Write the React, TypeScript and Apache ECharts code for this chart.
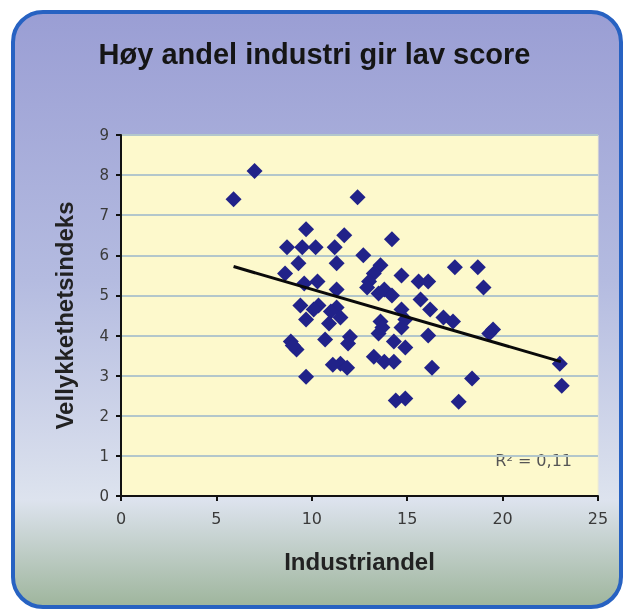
import React, { useEffect, useRef } from "react";
import * as echarts from "echarts";

const titleText = "Høy andel industri gir lav score";
const xName = "Industriandel";
const yName = "Vellykkethetsindeks";
const r2Label = "R² = 0,11";

const xTicks = { min: 0, max: 25, interval: 5 };
const yTicks = { min: 0, max: 9, interval: 1 };

const industriandel = [
  5.9, 7.0, 12.4, 9.7, 11.7, 14.2, 8.7, 9.5, 10.2, 11.2, 12.7, 9.3, 11.3, 13.6,
  17.5, 18.7, 19.0, 8.6, 13.25, 14.7, 13.0, 15.6, 16.1, 10.3, 9.6, 12.9, 11.3,
  13.8, 14.2, 15.7, 13.5, 9.4, 10.35, 11.3, 10.1, 11.0, 14.7, 16.2, 11.5, 9.7,
  10.9, 16.9, 17.4, 13.6, 14.9, 19.5, 19.3, 13.7, 14.7, 16.1, 12.0, 11.9, 14.3,
  14.9, 10.7, 8.9, 9.2, 9.0, 13.25, 13.8, 14.3, 11.5, 11.85, 11.1, 16.3, 23.0,
  23.1, 18.4, 9.7, 17.7, 14.4, 14.9, 13.5
];
const vellykkethet = [
  7.4, 8.1, 7.45, 6.65, 6.5, 6.4, 6.2, 6.2, 6.2, 6.2, 6.0, 5.8, 5.8, 5.75,
  5.7, 5.7, 5.2, 5.55, 5.55, 5.5, 5.35, 5.35, 5.35, 5.35, 5.3, 5.2, 5.15,
  5.15, 5.0, 4.9, 5.05, 4.75, 4.75, 4.7, 4.65, 4.6, 4.65, 4.65, 4.45, 4.4,
  4.3, 4.45, 4.35, 4.35, 4.4, 4.15, 4.05, 4.2, 4.2, 4.0, 3.97, 3.8, 3.85,
  3.7, 3.9, 3.85, 3.65, 3.75, 3.47, 3.35, 3.35, 3.3, 3.2, 3.27, 3.2, 3.3,
  2.75, 2.93, 2.97, 2.35, 2.38, 2.43, 4.05
];

const trendX = [5.9, 23.05];
const trendY = [5.72, 3.35];

export default function App() {
  const ref = useRef<HTMLDivElement>(null);
  useEffect(() => {
    if (!ref.current) return;
    const chart = echarts.init(ref.current, null, { renderer: "svg" });
    const points = industriandel.map((x, i) => [x, vellykkethet[i]]);
    const trend = trendX.map((x, i) => [x, trendY[i]]);
    const nameStyle = {
      fontFamily: "Liberation Sans",
      fontWeight: "bold",
      fontSize: 24,
      color: "#222",
    };
    chart.setOption({
      animation: false,
      title: {
        text: titleText,
        left: "center",
        top: 34,
        textStyle: {
          fontFamily: "Liberation Sans",
          fontWeight: "bold",
          fontSize: 29,
          color: "#151515",
        },
      },
      graphic: [
        {
          type: "rect",
          z: -10,
          shape: { x: 13, y: 12, width: 608, height: 595, r: 30 },
          style: {
            fill: new echarts.graphic.LinearGradient(0, 0, 0, 1, [
              { offset: 0, color: "#9a9ed4" },
              { offset: 0.45, color: "#b4bbe0" },
              { offset: 0.82, color: "#dde3ee" },
              { offset: 1, color: "#9eb59c" },
            ]),
            stroke: "#2762c2",
            lineWidth: 4,
          },
        },
        {
          type: "text",
          right: 57,
          top: 452,
          style: {
            text: r2Label,
            fontFamily: "DejaVu Sans",
            fontSize: 16,
            fill: "#555",
          },
        },
      ],
      grid: {
        left: 121,
        top: 135,
        width: 477,
        height: 361,
        show: true,
        backgroundColor: "#fdf9cc",
        borderColor: "#f0ecd0",
        borderWidth: 1,
      },
      xAxis: {
        type: "value",
        min: xTicks.min,
        max: xTicks.max,
        interval: xTicks.interval,
        name: xName,
        nameLocation: "middle",
        nameGap: 53,
        nameTextStyle: nameStyle,
        axisLine: { show: true, onZero: false, lineStyle: { color: "#111", width: 2 } },
        axisTick: { show: true, length: 5, lineStyle: { color: "#111", width: 2 } },
        axisLabel: {
          margin: 14,
          fontFamily: "DejaVu Sans",
          fontSize: 16,
          color: "#3a3a3a",
        },
        splitLine: { show: false },
      },
      yAxis: {
        type: "value",
        min: yTicks.min,
        max: yTicks.max,
        interval: yTicks.interval,
        name: yName,
        nameLocation: "middle",
        nameGap: 45,
        nameTextStyle: nameStyle,
        axisLine: { show: true, onZero: false, lineStyle: { color: "#111", width: 2 } },
        axisTick: { show: true, length: 5, lineStyle: { color: "#111", width: 2 } },
        axisLabel: {
          margin: 12,
          fontFamily: "DejaVu Sans",
          fontSize: 15,
          color: "#3a3a3a",
        },
        splitLine: { show: true, lineStyle: { color: "#b3c7cb", width: 2 } },
      },
      series: [
        {
          type: "scatter",
          data: points,
          symbol: "diamond",
          symbolSize: 16,
          itemStyle: { color: "#212289", opacity: 1 },
          z: 2,
        },
        {
          type: "line",
          data: trend,
          symbol: "none",
          lineStyle: { color: "#0a0a0a", width: 3 },
          z: 3,
        },
      ],
    });
    return () => chart.dispose();
  }, []);
  return (
    <div
      ref={ref}
      style={{ position: "fixed", left: 0, top: 0, width: 629, height: 612 }}
    />
  );
}
